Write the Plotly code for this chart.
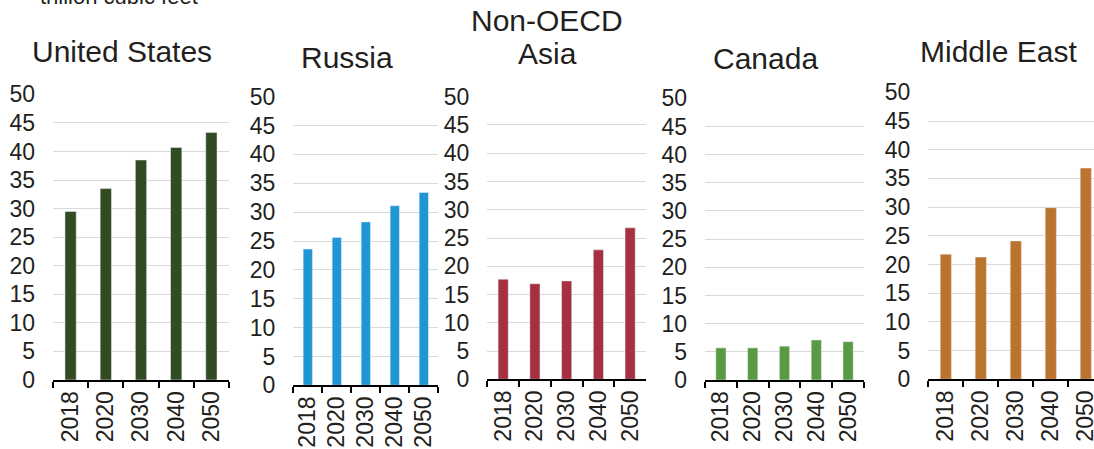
import plotly.graph_objs as go

# values (trillion cubic feet)
years = ["2018", "2020", "2030", "2040", "2050"]
regions = ["United States", "Russia", "Non-OECD", "Canada", "Middle East"]
us = [29.5, 33.5, 38.5, 40.7, 43.3]
russia = [23.6, 25.6, 28.3, 31.1, 33.4]
asia = [17.7, 16.9, 17.4, 22.9, 26.8]
canada = [5.7, 5.7, 6.0, 7.1, 6.8]
mideast = [21.8, 21.3, 24.1, 29.9, 36.8]

series = [us, russia, asia, canada, mideast]
colors = ["#324b23", "#1f96d4", "#a6303f", "#5a9a42", "#bb742e"]

W, H = 1094, 449
FONT = "Liberation Sans, Arial, sans-serif"
TXT = "#231f20"


def px(v):
    return v / W


def py(v):
    return 1 - v / H


# panel boxes in page pixels: x0, x1, y_top(=50), y_zero
boxes = [
    (53, 229, 94.3, 380),
    (293.3, 438.3, 96.7, 385.3),
    (487.3, 646, 96.7, 379.3),
    (705, 864, 98.3, 380),
    (928.3, 1103.3, 92.3, 379.3),
]

# title centres in page pixels
title_pos = [(122, 52.5), (346.7, 58.3), (547, 21.7), (765.8, 59.2), (998, 52.5)]

fig = go.Figure()

for i, (vals, col) in enumerate(zip(series, colors)):
    n = "" if i == 0 else str(i + 1)
    fig.add_trace(go.Bar(
        x=years, y=vals, marker_color=col, showlegend=False,
        xaxis="x" + n, yaxis="y" + n,
    ))
    x0, x1, yt, yz = boxes[i]
    # last panel runs off the right edge of the page, so trim its range
    step = (x1 - x0) / len(years)
    x_end = min(x1, W)
    xr = [-0.5, -0.5 + (x_end - x0) / step]
    fig.update_layout(**{
        "xaxis" + n: dict(
            domain=[px(x0), px(x_end)], anchor="y" + n, type="category",
            range=xr, automargin=False,
            showline=True, linecolor="black", linewidth=2,
            ticks="outside", tickson="boundaries", ticklen=6,
            tickcolor="black", tickwidth=1.5,
            tickangle=-90, showgrid=False,
            tickfont=dict(family=FONT, size=23, color=TXT),
        ),
        "yaxis" + n: dict(
            domain=[py(yz), py(yt)], anchor="x" + n,
            range=[0, 50], dtick=5, automargin=False,
            showgrid=True, gridcolor="#d9d9d9",
            gridwidth=1, zeroline=False, showline=False, ticks="",
            ticklabelstandoff=17,
            tickfont=dict(family=FONT, size=23, color=TXT),
        ),
    })
    tx, ty = title_pos[i]
    fig.add_annotation(
        text=regions[i], x=px(tx), y=py(ty - 1), xref="paper", yref="paper",
        xanchor="center", yanchor="middle", showarrow=False,
        font=dict(family=FONT, size=30, color=TXT),
    )

# second line of the Non-OECD Asia title
fig.add_annotation(
    text="Asia", x=px(547), y=py(55 - 1), xref="paper", yref="paper",
    xanchor="center", yanchor="middle", showarrow=False,
    font=dict(family=FONT, size=30, color=TXT),
)

# unit label, mostly above the top edge as in the reference
fig.add_annotation(
    text="trillion cubic feet", x=px(38), y=py(-3), xref="paper", yref="paper",
    xanchor="left", yanchor="middle", showarrow=False,
    font=dict(family=FONT, size=22, color=TXT),
)

fig.update_layout(
    width=W, height=H,
    margin=dict(l=0, r=0, t=0, b=0),
    paper_bgcolor="white", plot_bgcolor="white",
    bargap=0.68,
)

fig.write_html("out.html", config={"displayModeBar": False},
               post_script="document.body.style.margin = '0';")
